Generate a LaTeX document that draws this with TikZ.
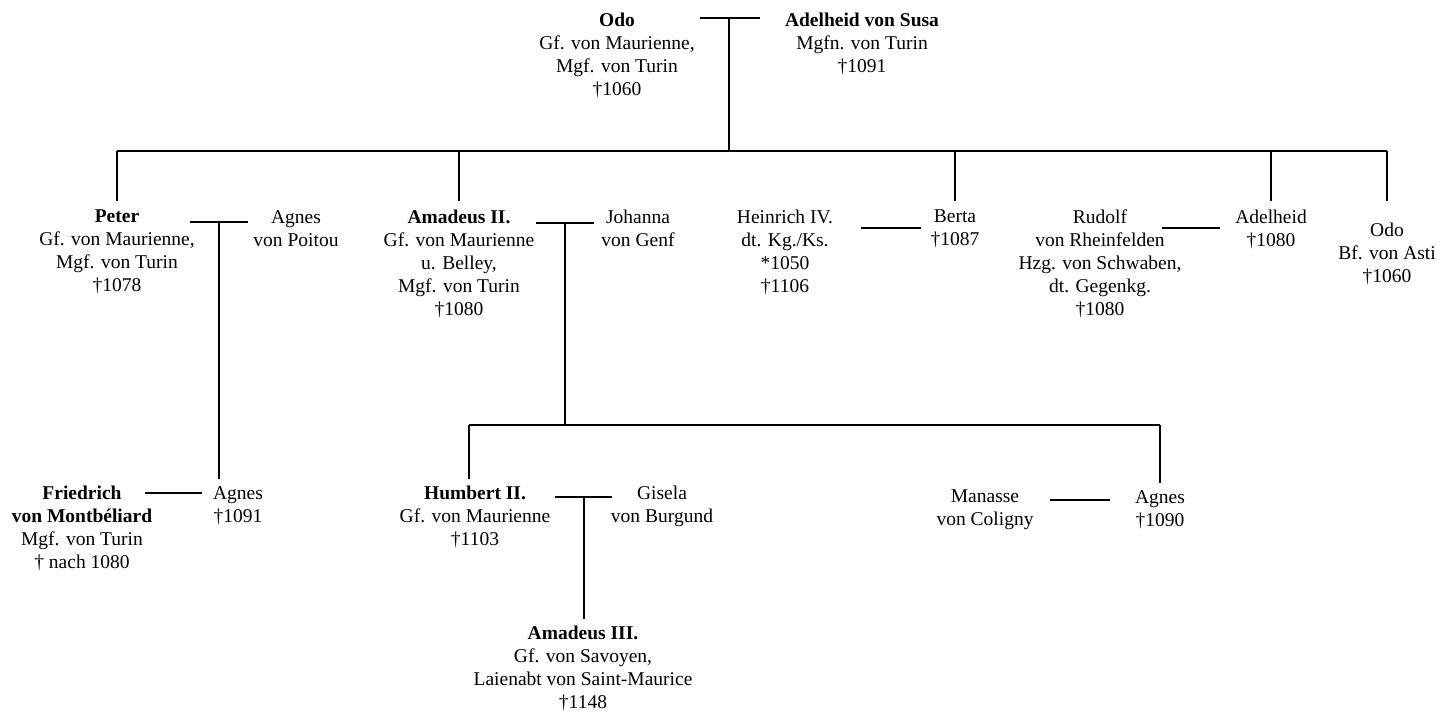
\documentclass[tikz,border=0pt]{standalone}
\usepackage{fontspec}
\setmainfont{Liberation Serif}
\usetikzlibrary{positioning}
\tikzset{
  person/.style={anchor=north, inner sep=0pt, align=center, font=\fontsize{19.5}{23}\selectfont},
  marriage/.style={line width=2pt},
  descent/.style={line width=2pt},
  childline/.style={descent, shorten >=7pt}
}
\begin{document}
\begin{tikzpicture}[x=1pt, y=-1pt]
  \useasboundingbox (0,0) rectangle (1450,714);
  % first generation
  \node[person] (odo) at (617,13) {\textbf{Odo}\\Gf. von Maurienne,\\Mgf. von Turin\\†1060};
  \node[person] (adelheidS) at (862,13) {\textbf{Adelheid von Susa}\\Mgfn. von Turin\\†1091};
  \coordinate (oaL) at (700,18);
  \coordinate (oaR) at (760,18);
  \coordinate (bar1) at (729,151);
  \draw[marriage] (oaL) -- (oaR);
  \draw[descent] (bar1 |- oaL) -- (bar1);

  % second generation
  \node[person] (peter) at (117,210) {\textbf{Peter}\\Gf. von Maurienne,\\Mgf. von Turin\\†1078};
  \node[person] (agnesP) at (296,210) {Agnes\\von Poitou};
  \node[person] (amadeus) at (459,210) {\textbf{Amadeus II.}\\Gf. von Maurienne\\u. Belley,\\Mgf. von Turin\\†1080};
  \node[person] (johanna) at (638,210) {Johanna\\von Genf};
  \node[person] (heinrich) at (785,210) {Heinrich IV.\\dt. Kg./Ks.\\*1050\\†1106};
  \node[person] (berta) at (955,210) {Berta\\†1087};
  \node[person] (rudolf) at (1100,210) {Rudolf\\von Rheinfelden\\Hzg. von Schwaben,\\dt. Gegenkg.\\†1080};
  \node[person] (adelheid) at (1271,210) {Adelheid\\†1080};
  \node[person] (odoB) at (1387,223) {Odo\\Bf. von Asti\\†1060};
  \draw[descent] (peter.north |- bar1) -- (odoB.north |- bar1);
  \foreach \n in {peter,amadeus,berta,adelheid,odoB}
    \draw[descent] (\n.north |- bar1) -- ++(0,50);

  \coordinate (paL) at (190,222);
  \coordinate (paR) at (248,222);
  \draw[marriage] (paL) -- (paR) coordinate[midway] (pa);
  \coordinate (ajL) at (536,223);
  \coordinate (ajR) at (594,223);
  \draw[marriage] (ajL) -- (ajR) coordinate[midway] (aj);
  \coordinate (hbL) at (861,228);
  \coordinate (hbR) at (921,228);
  \draw[marriage] (hbL) -- (hbR);
  \coordinate (raL) at (1162,228);
  \coordinate (raR) at (1220,228);
  \draw[marriage] (raL) -- (raR);

  % third generation
  \node[person] (friedrich) at (82,486) {\textbf{Friedrich}\\\textbf{von Montbéliard}\\Mgf. von Turin\\† nach 1080};
  \node[person] (agnesF) at (238,486) {Agnes\\†1091};
  \node[person] (humbert) at (475,486) {\textbf{Humbert II.}\\Gf. von Maurienne\\†1103};
  \node[person] (gisela) at (662,486) {Gisela\\von Burgund};
  \node[person] (manasse) at (985,490) {Manasse\\von Coligny};
  \node[person] (agnesM) at (1160,490) {Agnes\\†1090};
  \draw[childline] (pa) -- (pa |- agnesF.north);
  \coordinate (bar2L) at (469,425);
  \coordinate (bar2R) at (agnesM.north |- bar2L);
  \draw[descent] (aj) -- (aj |- bar2L);
  \draw[descent] (bar2L) -- (bar2R);
  \draw[childline] (bar2L) -- (bar2L |- humbert.north);
  \draw[childline] (bar2R) -- (agnesM.north);

  \coordinate (faL) at (145,493);
  \coordinate (faR) at (202,493);
  \draw[marriage] (faL) -- (faR);
  \coordinate (hgL) at (555,497);
  \coordinate (hgR) at (612,497);
  \draw[marriage] (hgL) -- (hgR) coordinate[midway] (hg);
  \coordinate (maL) at (1050,500);
  \coordinate (maR) at (1110,500);
  \draw[marriage] (maL) -- (maR);

  % fourth generation
  \node[person] (amadeusIII) at (583,626) {\textbf{Amadeus III.}\\Gf. von Savoyen,\\Laienabt von Saint-Maurice\\†1148};
  \draw[childline] (hg) -- (hg |- amadeusIII.north);
\end{tikzpicture}
\end{document}
